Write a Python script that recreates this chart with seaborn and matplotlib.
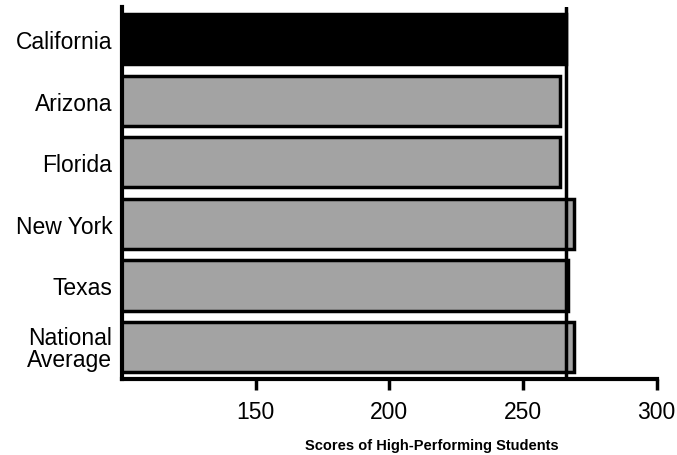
import matplotlib
matplotlib.use("Agg")
import matplotlib.pyplot as plt
import seaborn as sns
import pandas as pd

states = ["California", "Arizona", "Florida", "New York", "Texas", "National\nAverage"]
scores = [266, 264, 264, 269, 267, 269]
bar_colors = ["#000000", "#a3a3a3", "#a3a3a3", "#a3a3a3", "#a3a3a3", "#a3a3a3"]
x_ticks = [150, 200, 250, 300]

sns.set_style("ticks")
plt.rcParams["font.family"] = ["Liberation Sans", "DejaVu Sans"]
plt.rcParams["text.color"] = "black"
plt.rcParams["xtick.color"] = "black"
plt.rcParams["ytick.color"] = "black"

df = pd.DataFrame({"state": states, "score": scores})

fig = plt.figure(figsize=(6.77, 4.56), dpi=100)
ax = fig.add_axes([0.180, 0.167, 0.790, 0.815])

sns.barplot(data=df, x="score", y="state", hue="state", palette=bar_colors,
            orient="h", width=0.82, legend=False, ax=ax,
            edgecolor="black", linewidth=2.5)

# reference line at the California score
ax.axvline(scores[0], color="black", lw=2.5, zorder=5)

ax.set_xlim(100, 300)
ax.set_ylim(5.52, -0.52)
ax.set_xticks(x_ticks)
ax.tick_params(axis="x", labelsize=16.5, length=8, width=2.5, pad=7)
ax.tick_params(axis="y", labelsize=16.5, length=0, pad=7)
ax.set_ylabel("")
ax.set_xlabel("Scores of High-Performing Students", fontsize=10.5,
              fontweight="bold", color="black")
ax.xaxis.set_label_coords(0.58, -0.16)
for lab in ax.get_yticklabels():
    lab.set_linespacing(0.95)

sns.despine(ax=ax)
for side in ["left", "bottom"]:
    ax.spines[side].set_linewidth(3)
    ax.spines[side].set_color("black")

fig.savefig("out.png", dpi=100)
